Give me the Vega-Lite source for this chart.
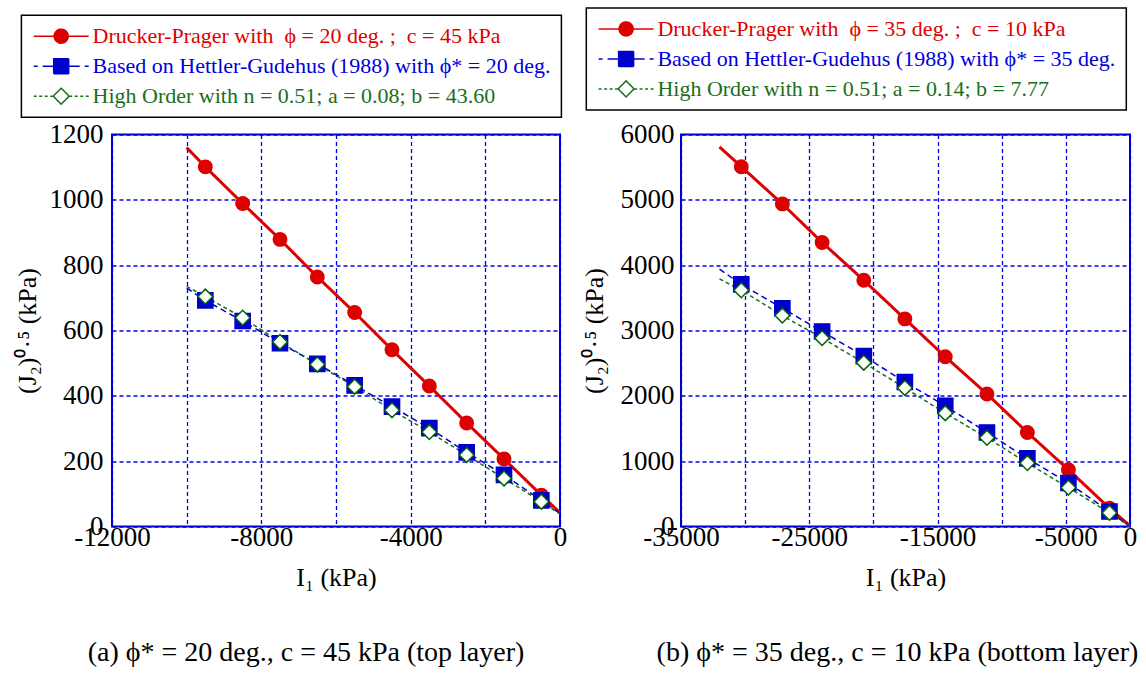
{
  "$schema": "https://vega.github.io/schema/vega-lite/v6.json",
  "background": "white",
  "padding": {"left": 13, "top": 5.5, "right": 5, "bottom": 5},
  "bounds": "flush",
  "spacing": 121,
  "config": {
    "font": "Liberation Serif",
    "view": {"stroke": "#0000cc", "strokeWidth": 2},
    "axis": {
      "domain": false, "ticks": false, "grid": true,
      "gridColor": "#0000ee", "gridDash": [4, 3], "gridWidth": 1.3, "gridOpacity": 1,
      "labelFont": "Liberation Serif", "labelFontSize": 27, "labelColor": "black",
      "titleFont": "Liberation Serif", "titleFontSize": 26, "titleFontWeight": "normal", "titleColor": "black",
      "labelOverlap": false, "labelFlush": false
    },
    "title": {"font": "Liberation Serif", "fontSize": 28, "fontWeight": "normal", "color": "black"}
  },
  "datasets": {
    "a": [
      {"model": "DP", "kind": "curve", "x": -10000, "y": 1160},
      {"model": "DP", "kind": "curve", "x": -9500, "y": 1101},
      {"model": "DP", "kind": "curve", "x": -8500, "y": 989},
      {"model": "DP", "kind": "curve", "x": -7500, "y": 879},
      {"model": "DP", "kind": "curve", "x": -6500, "y": 764},
      {"model": "DP", "kind": "curve", "x": -5500, "y": 655},
      {"model": "DP", "kind": "curve", "x": -4500, "y": 541},
      {"model": "DP", "kind": "curve", "x": -3500, "y": 430},
      {"model": "DP", "kind": "curve", "x": -2500, "y": 317},
      {"model": "DP", "kind": "curve", "x": -1500, "y": 207},
      {"model": "DP", "kind": "curve", "x": -500, "y": 96},
      {"model": "DP", "kind": "curve", "x": 0, "y": 42},
      {"model": "HG", "kind": "curve", "x": -10000, "y": 730},
      {"model": "HG", "kind": "curve", "x": -9500, "y": 692},
      {"model": "HG", "kind": "curve", "x": -8500, "y": 629},
      {"model": "HG", "kind": "curve", "x": -7500, "y": 561},
      {"model": "HG", "kind": "curve", "x": -6500, "y": 498},
      {"model": "HG", "kind": "curve", "x": -5500, "y": 432},
      {"model": "HG", "kind": "curve", "x": -4500, "y": 367},
      {"model": "HG", "kind": "curve", "x": -3500, "y": 301},
      {"model": "HG", "kind": "curve", "x": -2500, "y": 227},
      {"model": "HG", "kind": "curve", "x": -1500, "y": 158},
      {"model": "HG", "kind": "curve", "x": -500, "y": 80},
      {"model": "HG", "kind": "curve", "x": 0, "y": 40},
      {"model": "HO", "kind": "curve", "x": -10000, "y": 735},
      {"model": "HO", "kind": "curve", "x": -9500, "y": 704},
      {"model": "HO", "kind": "curve", "x": -8500, "y": 639},
      {"model": "HO", "kind": "curve", "x": -7500, "y": 565},
      {"model": "HO", "kind": "curve", "x": -6500, "y": 496},
      {"model": "HO", "kind": "curve", "x": -5500, "y": 428},
      {"model": "HO", "kind": "curve", "x": -4500, "y": 356},
      {"model": "HO", "kind": "curve", "x": -3500, "y": 289},
      {"model": "HO", "kind": "curve", "x": -2500, "y": 219},
      {"model": "HO", "kind": "curve", "x": -1500, "y": 147},
      {"model": "HO", "kind": "curve", "x": -500, "y": 76},
      {"model": "HO", "kind": "curve", "x": 0, "y": 38},
      {"model": "DP", "kind": "marker", "x": -9500, "y": 1101},
      {"model": "DP", "kind": "marker", "x": -8500, "y": 989},
      {"model": "DP", "kind": "marker", "x": -7500, "y": 879},
      {"model": "DP", "kind": "marker", "x": -6500, "y": 764},
      {"model": "DP", "kind": "marker", "x": -5500, "y": 655},
      {"model": "DP", "kind": "marker", "x": -4500, "y": 541},
      {"model": "DP", "kind": "marker", "x": -3500, "y": 430},
      {"model": "DP", "kind": "marker", "x": -2500, "y": 317},
      {"model": "DP", "kind": "marker", "x": -1500, "y": 207},
      {"model": "DP", "kind": "marker", "x": -500, "y": 96},
      {"model": "HG", "kind": "marker", "x": -9500, "y": 692},
      {"model": "HG", "kind": "marker", "x": -8500, "y": 629},
      {"model": "HG", "kind": "marker", "x": -7500, "y": 561},
      {"model": "HG", "kind": "marker", "x": -6500, "y": 498},
      {"model": "HG", "kind": "marker", "x": -5500, "y": 432},
      {"model": "HG", "kind": "marker", "x": -4500, "y": 367},
      {"model": "HG", "kind": "marker", "x": -3500, "y": 301},
      {"model": "HG", "kind": "marker", "x": -2500, "y": 227},
      {"model": "HG", "kind": "marker", "x": -1500, "y": 158},
      {"model": "HG", "kind": "marker", "x": -500, "y": 80},
      {"model": "HO", "kind": "marker", "x": -9500, "y": 704},
      {"model": "HO", "kind": "marker", "x": -8500, "y": 639},
      {"model": "HO", "kind": "marker", "x": -7500, "y": 565},
      {"model": "HO", "kind": "marker", "x": -6500, "y": 496},
      {"model": "HO", "kind": "marker", "x": -5500, "y": 428},
      {"model": "HO", "kind": "marker", "x": -4500, "y": 356},
      {"model": "HO", "kind": "marker", "x": -3500, "y": 289},
      {"model": "HO", "kind": "marker", "x": -2500, "y": 219},
      {"model": "HO", "kind": "marker", "x": -1500, "y": 147},
      {"model": "HO", "kind": "marker", "x": -500, "y": 76}
    ],
    "b": [
      {"model": "DP", "kind": "curve", "x": -32000, "y": 5810},
      {"model": "DP", "kind": "curve", "x": -30300, "y": 5507},
      {"model": "DP", "kind": "curve", "x": -27100, "y": 4938},
      {"model": "DP", "kind": "curve", "x": -24000, "y": 4348},
      {"model": "DP", "kind": "curve", "x": -20750, "y": 3768},
      {"model": "DP", "kind": "curve", "x": -17550, "y": 3178},
      {"model": "DP", "kind": "curve", "x": -14400, "y": 2598},
      {"model": "DP", "kind": "curve", "x": -11150, "y": 2029},
      {"model": "DP", "kind": "curve", "x": -8000, "y": 1439},
      {"model": "DP", "kind": "curve", "x": -4800, "y": 870},
      {"model": "DP", "kind": "curve", "x": -1600, "y": 280},
      {"model": "DP", "kind": "curve", "x": 0, "y": 10},
      {"model": "HG", "kind": "curve", "x": -32000, "y": 3940},
      {"model": "HG", "kind": "curve", "x": -30300, "y": 3707},
      {"model": "HG", "kind": "curve", "x": -27100, "y": 3341},
      {"model": "HG", "kind": "curve", "x": -24000, "y": 2985},
      {"model": "HG", "kind": "curve", "x": -20750, "y": 2609},
      {"model": "HG", "kind": "curve", "x": -17550, "y": 2212},
      {"model": "HG", "kind": "curve", "x": -14400, "y": 1846},
      {"model": "HG", "kind": "curve", "x": -11150, "y": 1439},
      {"model": "HG", "kind": "curve", "x": -8000, "y": 1042},
      {"model": "HG", "kind": "curve", "x": -4800, "y": 666},
      {"model": "HG", "kind": "curve", "x": -1600, "y": 229},
      {"model": "HG", "kind": "curve", "x": 0, "y": 0},
      {"model": "HO", "kind": "curve", "x": -32000, "y": 3790},
      {"model": "HO", "kind": "curve", "x": -30300, "y": 3616},
      {"model": "HO", "kind": "curve", "x": -27100, "y": 3229},
      {"model": "HO", "kind": "curve", "x": -24000, "y": 2883},
      {"model": "HO", "kind": "curve", "x": -20750, "y": 2507},
      {"model": "HO", "kind": "curve", "x": -17550, "y": 2121},
      {"model": "HO", "kind": "curve", "x": -14400, "y": 1734},
      {"model": "HO", "kind": "curve", "x": -11150, "y": 1358},
      {"model": "HO", "kind": "curve", "x": -8000, "y": 971},
      {"model": "HO", "kind": "curve", "x": -4800, "y": 595},
      {"model": "HO", "kind": "curve", "x": -1600, "y": 209},
      {"model": "HO", "kind": "curve", "x": 0, "y": 0},
      {"model": "DP", "kind": "marker", "x": -30300, "y": 5507},
      {"model": "DP", "kind": "marker", "x": -27100, "y": 4938},
      {"model": "DP", "kind": "marker", "x": -24000, "y": 4348},
      {"model": "DP", "kind": "marker", "x": -20750, "y": 3768},
      {"model": "DP", "kind": "marker", "x": -17550, "y": 3178},
      {"model": "DP", "kind": "marker", "x": -14400, "y": 2598},
      {"model": "DP", "kind": "marker", "x": -11150, "y": 2029},
      {"model": "DP", "kind": "marker", "x": -8000, "y": 1439},
      {"model": "DP", "kind": "marker", "x": -4800, "y": 870},
      {"model": "DP", "kind": "marker", "x": -1600, "y": 280},
      {"model": "HG", "kind": "marker", "x": -30300, "y": 3707},
      {"model": "HG", "kind": "marker", "x": -27100, "y": 3341},
      {"model": "HG", "kind": "marker", "x": -24000, "y": 2985},
      {"model": "HG", "kind": "marker", "x": -20750, "y": 2609},
      {"model": "HG", "kind": "marker", "x": -17550, "y": 2212},
      {"model": "HG", "kind": "marker", "x": -14400, "y": 1846},
      {"model": "HG", "kind": "marker", "x": -11150, "y": 1439},
      {"model": "HG", "kind": "marker", "x": -8000, "y": 1042},
      {"model": "HG", "kind": "marker", "x": -4800, "y": 666},
      {"model": "HG", "kind": "marker", "x": -1600, "y": 229},
      {"model": "HO", "kind": "marker", "x": -30300, "y": 3616},
      {"model": "HO", "kind": "marker", "x": -27100, "y": 3229},
      {"model": "HO", "kind": "marker", "x": -24000, "y": 2883},
      {"model": "HO", "kind": "marker", "x": -20750, "y": 2507},
      {"model": "HO", "kind": "marker", "x": -17550, "y": 2121},
      {"model": "HO", "kind": "marker", "x": -14400, "y": 1734},
      {"model": "HO", "kind": "marker", "x": -11150, "y": 1358},
      {"model": "HO", "kind": "marker", "x": -8000, "y": 971},
      {"model": "HO", "kind": "marker", "x": -4800, "y": 595},
      {"model": "HO", "kind": "marker", "x": -1600, "y": 209}
    ]
  },
  "resolve": {
    "scale": {"x": "independent", "y": "independent", "color": "independent"},
    "legend": {"color": "independent"}
  },
  "hconcat": [
    {
      "width": 448,
      "height": 392,
      "data": {"name": "a"},
      "title": {"text": "(a) ϕ* = 20 deg., c = 45 kPa (top layer)", "orient": "bottom", "anchor": "middle", "offset": 48, "dx": -30, "font": "Liberation Serif", "fontSize": 28, "fontWeight": "normal"},
      "layer": [
        {
          "transform": [{"filter": "datum.kind === 'curve'"}],
          "mark": {"type": "line", "clip": true},
          "encoding": {
            "x": {"field": "x", "type": "quantitative", "scale": {"domain": [-12000, 0], "nice": false},
              "axis": {"values": [-12000, -10000, -8000, -6000, -4000, -2000, 0], "labelExpr": "datum.value % 4000 === 0 ? '' + datum.value : ''", "title": "I₁ (kPa)", "labelPadding": -2, "titlePadding": 14,
                "labelFont": "Liberation Serif", "labelFontSize": 27, "labelColor": "black", "titleFont": "Liberation Serif", "titleFontSize": 26, "titleFontWeight": "normal", "titleColor": "black",
                "grid": true, "gridColor": "#0000ee", "gridDash": [4, 3], "gridWidth": 1.3, "gridOpacity": 1, "domain": false, "ticks": false}},
            "y": {"field": "y", "type": "quantitative", "scale": {"domain": [0, 1200], "nice": false},
              "axis": {"values": [0, 200, 400, 600, 800, 1000, 1200], "format": "d", "title": "(J₂)⁰·⁵ (kPa)", "labelPadding": 9, "titlePadding": 8.5,
                "labelFont": "Liberation Serif", "labelFontSize": 27, "labelColor": "black", "titleFont": "Liberation Serif", "titleFontSize": 26, "titleFontWeight": "normal", "titleColor": "black",
                "grid": true, "gridColor": "#0000ee", "gridDash": [4, 3], "gridWidth": 1.3, "gridOpacity": 1, "domain": false, "ticks": false}},
            "color": {"field": "model", "type": "nominal",
              "scale": {"domain": ["DP", "HG", "HO"], "range": ["#dd0000", "#0000cc", "#1b6e1b"]},
              "legend": {
                "orient": "none", "legendX": -90.6, "legendY": -119.3, "title": null,
                "labelExpr": "datum.value === 'DP' ? 'Drucker-Prager with\u00a0 ϕ = 20 deg. ;\u00a0 c = 45 kPa' : datum.value === 'HG' ? 'Based on Hettler-Gudehus (1988) with ϕ* = 20 deg.' : 'High Order with n = 0.51; a = 0.08; b = 43.60'",
                "labelFont": "Liberation Serif", "labelFontSize": 22, "labelLimit": 700,
                "padding": 10, "rowPadding": 8, "strokeColor": "black", "fillColor": "white", "cornerRadius": 0,
                "symbolOffset": 18.8, "labelOffset": 20.3, "symbolSize": 400, "symbolStrokeWidth": 1.5,
                "encode": {
                  "symbols": {"update": {
                    "shape": {"signal": "datum.value === 'DP' ? 'M -2.75 0 L 2.75 0 M -0.7 0 A 0.7 0.7 0 1 0 0.7 0 A 0.7 0.7 0 1 0 -0.7 0 Z' : datum.value === 'HG' ? 'M -2.75 0 L -2.35 0 M -1.85 0 L -0.8 0 M 0.8 0 L 1.85 0 M 2.35 0 L 2.75 0 M -0.75 -0.75 L 0.75 -0.75 L 0.75 0.75 L -0.75 0.75 Z' : 'M -2.75 0 L -2.45 0 M -2.2 0 L -1.9 0 M -1.65 0 L -1.35 0 M -1.1 0 L -0.85 0 M 0.85 0 L 1.1 0 M 1.35 0 L 1.65 0 M 1.9 0 L 2.2 0 M 2.45 0 L 2.75 0 M 0 -0.8 L 0.8 0 L 0 0.8 L -0.8 0 Z'"},
                    "fill": {"signal": "datum.value === 'DP' ? '#dd0000' : datum.value === 'HG' ? '#0000cc' : '#ffffff'"},
                    "stroke": {"signal": "datum.value === 'DP' ? '#dd0000' : datum.value === 'HG' ? '#0000cc' : '#1b6e1b'"},
                    "size": {"value": 400},
                    "strokeWidth": {"value": 1.5},
                    "strokeDash": {"value": [1, 0]},
                    "opacity": {"value": 1}
                  }},
                  "labels": {"update": {"fill": {"signal": "datum.value === 'DP' ? '#e00000' : datum.value === 'HG' ? '#0000dd' : '#1b6e1b'"}}},
                  "legend": {"update": {"strokeWidth": {"value": 1.5}}}
                }
              }},
            "strokeDash": {"condition": [{"test": "datum.model === 'HG'", "value": [6, 4]}, {"test": "datum.model === 'HO'", "value": [4, 3]}], "value": [1, 0]},
            "strokeWidth": {"condition": {"test": "datum.model === 'DP'", "value": 3}, "value": 1.5}
          }
        },
        {
          "transform": [{"filter": "datum.kind === 'marker'"}],
          "mark": {"type": "point", "opacity": 1, "strokeWidth": 1.5},
          "encoding": {
            "x": {"field": "x", "type": "quantitative"},
            "y": {"field": "y", "type": "quantitative"},
            "shape": {"condition": [{"test": "datum.model === 'DP'", "value": "circle"}, {"test": "datum.model === 'HG'", "value": "square"}], "value": "diamond"},
            "fill": {"condition": [{"test": "datum.model === 'DP'", "value": "#dd0000"}, {"test": "datum.model === 'HG'", "value": "#0000cc"}], "value": "#ffffff"},
            "stroke": {"condition": [{"test": "datum.model === 'DP'", "value": "#dd0000"}, {"test": "datum.model === 'HG'", "value": "#0000cc"}], "value": "#006400"},
            "size": {"condition": [{"test": "datum.model === 'DP'", "value": 180}, {"test": "datum.model === 'HG'", "value": 230}], "value": 220}
          }
        }
      ]
    },
    {
      "width": 449,
      "height": 392,
      "data": {"name": "b"},
      "title": {"text": "(b) ϕ* = 35 deg., c = 10 kPa (bottom layer)", "orient": "bottom", "anchor": "middle", "offset": 48, "dx": -8, "font": "Liberation Serif", "fontSize": 28, "fontWeight": "normal"},
      "layer": [
        {
          "transform": [{"filter": "datum.kind === 'curve'"}],
          "mark": {"type": "line", "clip": true},
          "encoding": {
            "x": {"field": "x", "type": "quantitative", "scale": {"domain": [-35000, 0], "nice": false},
              "axis": {"values": [-35000, -30000, -25000, -20000, -15000, -10000, -5000, 0], "labelExpr": "(datum.value + 35000) % 10000 === 0 || datum.value === 0 ? '' + datum.value : ''", "title": "I₁ (kPa)", "labelPadding": -2, "titlePadding": 14,
                "labelFont": "Liberation Serif", "labelFontSize": 27, "labelColor": "black", "titleFont": "Liberation Serif", "titleFontSize": 26, "titleFontWeight": "normal", "titleColor": "black",
                "grid": true, "gridColor": "#0000ee", "gridDash": [4, 3], "gridWidth": 1.3, "gridOpacity": 1, "domain": false, "ticks": false}},
            "y": {"field": "y", "type": "quantitative", "scale": {"domain": [0, 6000], "nice": false},
              "axis": {"values": [0, 1000, 2000, 3000, 4000, 5000, 6000], "format": "d", "title": "(J₂)⁰·⁵ (kPa)", "labelPadding": 7, "titlePadding": 13,
                "labelFont": "Liberation Serif", "labelFontSize": 27, "labelColor": "black", "titleFont": "Liberation Serif", "titleFontSize": 26, "titleFontWeight": "normal", "titleColor": "black",
                "grid": true, "gridColor": "#0000ee", "gridDash": [4, 3], "gridWidth": 1.3, "gridOpacity": 1, "domain": false, "ticks": false}},
            "color": {"field": "model", "type": "nominal",
              "scale": {"domain": ["DP", "HG", "HO"], "range": ["#dd0000", "#0000cc", "#1b6e1b"]},
              "legend": {
                "orient": "none", "legendX": -94.7, "legendY": -126.6, "title": null,
                "labelExpr": "datum.value === 'DP' ? 'Drucker-Prager with\u00a0 ϕ = 35 deg. ;\u00a0 c = 10 kPa' : datum.value === 'HG' ? 'Based on Hettler-Gudehus (1988) with ϕ* = 35 deg.' : 'High Order with n = 0.51; a = 0.14; b = 7.77'",
                "labelFont": "Liberation Serif", "labelFontSize": 22, "labelLimit": 700,
                "padding": 10, "rowPadding": 8, "strokeColor": "black", "fillColor": "white", "cornerRadius": 0,
                "symbolOffset": 18.8, "labelOffset": 20.3, "symbolSize": 400, "symbolStrokeWidth": 1.5,
                "encode": {
                  "symbols": {"update": {
                    "shape": {"signal": "datum.value === 'DP' ? 'M -2.75 0 L 2.75 0 M -0.7 0 A 0.7 0.7 0 1 0 0.7 0 A 0.7 0.7 0 1 0 -0.7 0 Z' : datum.value === 'HG' ? 'M -2.75 0 L -2.35 0 M -1.85 0 L -0.8 0 M 0.8 0 L 1.85 0 M 2.35 0 L 2.75 0 M -0.75 -0.75 L 0.75 -0.75 L 0.75 0.75 L -0.75 0.75 Z' : 'M -2.75 0 L -2.45 0 M -2.2 0 L -1.9 0 M -1.65 0 L -1.35 0 M -1.1 0 L -0.85 0 M 0.85 0 L 1.1 0 M 1.35 0 L 1.65 0 M 1.9 0 L 2.2 0 M 2.45 0 L 2.75 0 M 0 -0.8 L 0.8 0 L 0 0.8 L -0.8 0 Z'"},
                    "fill": {"signal": "datum.value === 'DP' ? '#dd0000' : datum.value === 'HG' ? '#0000cc' : '#ffffff'"},
                    "stroke": {"signal": "datum.value === 'DP' ? '#dd0000' : datum.value === 'HG' ? '#0000cc' : '#1b6e1b'"},
                    "size": {"value": 400},
                    "strokeWidth": {"value": 1.5},
                    "strokeDash": {"value": [1, 0]},
                    "opacity": {"value": 1}
                  }},
                  "labels": {"update": {"fill": {"signal": "datum.value === 'DP' ? '#e00000' : datum.value === 'HG' ? '#0000dd' : '#1b6e1b'"}}},
                  "legend": {"update": {"strokeWidth": {"value": 1.5}}}
                }
              }},
            "strokeDash": {"condition": [{"test": "datum.model === 'HG'", "value": [6, 4]}, {"test": "datum.model === 'HO'", "value": [4, 3]}], "value": [1, 0]},
            "strokeWidth": {"condition": {"test": "datum.model === 'DP'", "value": 3}, "value": 1.5}
          }
        },
        {
          "transform": [{"filter": "datum.kind === 'marker'"}],
          "mark": {"type": "point", "opacity": 1, "strokeWidth": 1.5},
          "encoding": {
            "x": {"field": "x", "type": "quantitative"},
            "y": {"field": "y", "type": "quantitative"},
            "shape": {"condition": [{"test": "datum.model === 'DP'", "value": "circle"}, {"test": "datum.model === 'HG'", "value": "square"}], "value": "diamond"},
            "fill": {"condition": [{"test": "datum.model === 'DP'", "value": "#dd0000"}, {"test": "datum.model === 'HG'", "value": "#0000cc"}], "value": "#ffffff"},
            "stroke": {"condition": [{"test": "datum.model === 'DP'", "value": "#dd0000"}, {"test": "datum.model === 'HG'", "value": "#0000cc"}], "value": "#006400"},
            "size": {"condition": [{"test": "datum.model === 'DP'", "value": 180}, {"test": "datum.model === 'HG'", "value": 230}], "value": 220}
          }
        }
      ]
    }
  ]
}
